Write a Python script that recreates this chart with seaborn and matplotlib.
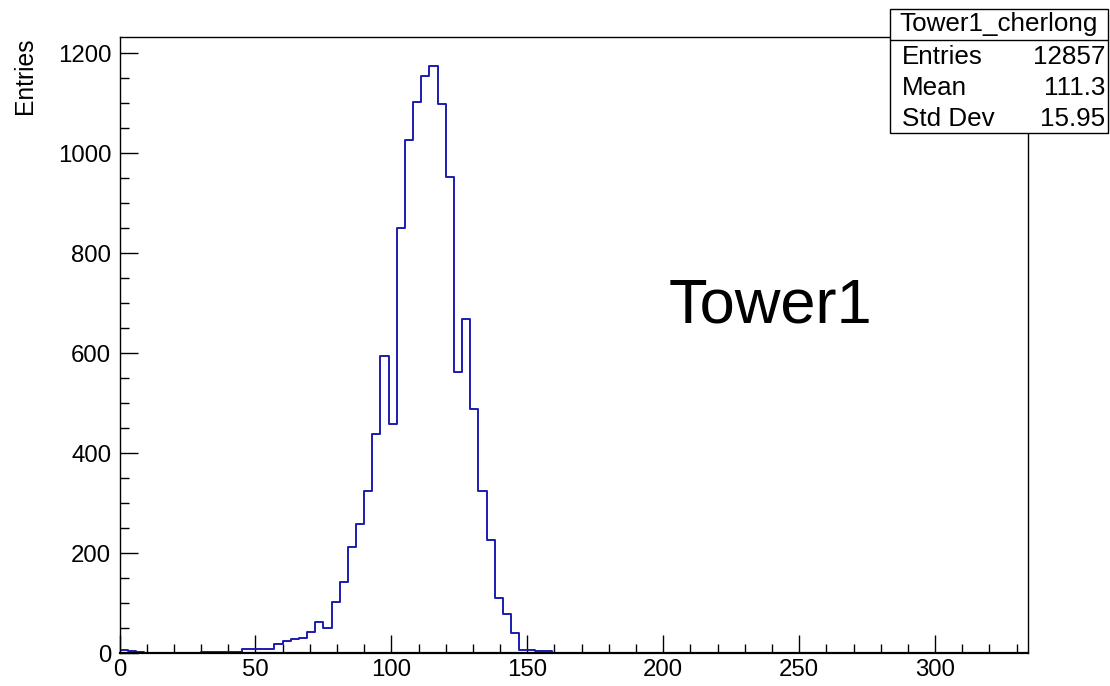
import numpy as np
import pandas as pd
import matplotlib
matplotlib.use("Agg")
import matplotlib.pyplot as plt
from matplotlib.ticker import MultipleLocator
from matplotlib.patches import Rectangle
from matplotlib.lines import Line2D
import seaborn as sns

# ---------------- data ----------------
bin_width = 3
x_max = 334
y_max = 1233
counts = [
    6, 5, 3, 1, 1, 0, 1, 1, 1, 1,          # 0-30
    2, 2, 2, 2, 3, 8, 8, 8, 9, 18,         # 30-60
    25, 28, 30, 43, 62, 51, 102, 142, 212, 259,   # 60-90
    325, 438, 595, 458, 851, 1027, 1102, 1155, 1174, 1098,  # 90-120
    953, 563, 668, 488, 325, 227, 110, 78, 41, 7,   # 120-150
    7, 4, 5, 0, 0, 0, 0, 0, 0, 0,          # 150-180
    0, 1, 0, 0, 0, 0, 0, 0, 0, 0,          # 180-210
] + [0] * 41
hist_name = "Tower1_cherlong"
stat_labels = ["Entries", "Mean", "Std Dev"]
stat_values = ["12857", "111.3", "15.95"]
big_label = "Tower1"
y_title = "Entries"

n_bins = len(counts)
edges = np.arange(n_bins + 1) * bin_width
centers = (edges[:-1] + edges[1:]) / 2
df = pd.DataFrame({"x": centers, "w": np.asarray(counts, dtype=float)})

# ---------------- figure ----------------
sns.set_theme(style="white")
plt.rcParams["font.family"] = ["Liberation Sans", "DejaVu Sans"]

W, H = 1110, 686
fig = plt.figure(figsize=(W / 100, H / 100), dpi=100)
L, R, T, B = 119.5, 1027.5, 37, 653
ax = fig.add_axes([L / W, 1 - B / H, (R - L) / W, (B - T) / H])

sns.histplot(data=df, x="x", weights="w", binwidth=bin_width,
             binrange=(0, n_bins * bin_width), element="step",
             fill=False, color="#1c1cb0", linewidth=1.4, ax=ax)

ax.set_xlim(0, x_max)
ax.set_ylim(0, y_max)
ax.set_xlabel("")
ax.set_ylabel("")

for s in ax.spines.values():
    s.set_color("black")
    s.set_linewidth(1.0)
ax.spines["bottom"].set_linewidth(1.6)

ax.xaxis.set_major_locator(MultipleLocator(50))
ax.xaxis.set_minor_locator(MultipleLocator(10))
ax.yaxis.set_major_locator(MultipleLocator(200))
ax.yaxis.set_minor_locator(MultipleLocator(50))
ax.tick_params(axis="both", which="both", direction="in", color="black",
               top=False, right=False, bottom=True, left=True)
ax.tick_params(axis="both", which="major", length=13, width=1.0,
               labelsize=17.3, labelcolor="black")
ax.tick_params(axis="both", which="minor", length=6.5, width=1.0)
ax.tick_params(axis="x", which="major", pad=4)
ax.tick_params(axis="y", which="major", pad=6)

# y axis title, right-aligned at top
fig.text(25 / W, 1 - 38 / H, y_title, rotation=90, ha="center", va="top",
         fontsize=17.7, color="black")

# big label
ax.text(202.0, 662, big_label, fontsize=45.5, color="black",
        ha="left", va="baseline")

# ---------------- stats box ----------------
bx0, bx1, by0, by1 = 890, 1108, 9, 133
sep = 40
fig.patches.append(Rectangle((bx0 / W, 1 - by1 / H), (bx1 - bx0) / W,
                             (by1 - by0) / H, transform=fig.transFigure,
                             facecolor="white", edgecolor="black",
                             linewidth=1.0, zorder=10))
fig.lines.append(Line2D([bx0 / W, bx1 / W], [1 - sep / H, 1 - sep / H],
                        transform=fig.transFigure, color="black",
                        linewidth=1.0, zorder=11))
fig.text(((bx0 + bx1) / 2) / W, 1 - 24 / H, hist_name, ha="center",
         va="center", fontsize=18.7, color="black", zorder=12)
row_y = [57, 88, 119]
for lab, val, yy in zip(stat_labels, stat_values, row_y):
    fig.text(902 / W, 1 - yy / H, lab, ha="left", va="center",
             fontsize=18.7, color="black", zorder=12)
    fig.text(1105 / W, 1 - yy / H, val, ha="right", va="center",
             fontsize=18.7, color="black", zorder=12)

fig.savefig("out.png", dpi=100, facecolor="white")
